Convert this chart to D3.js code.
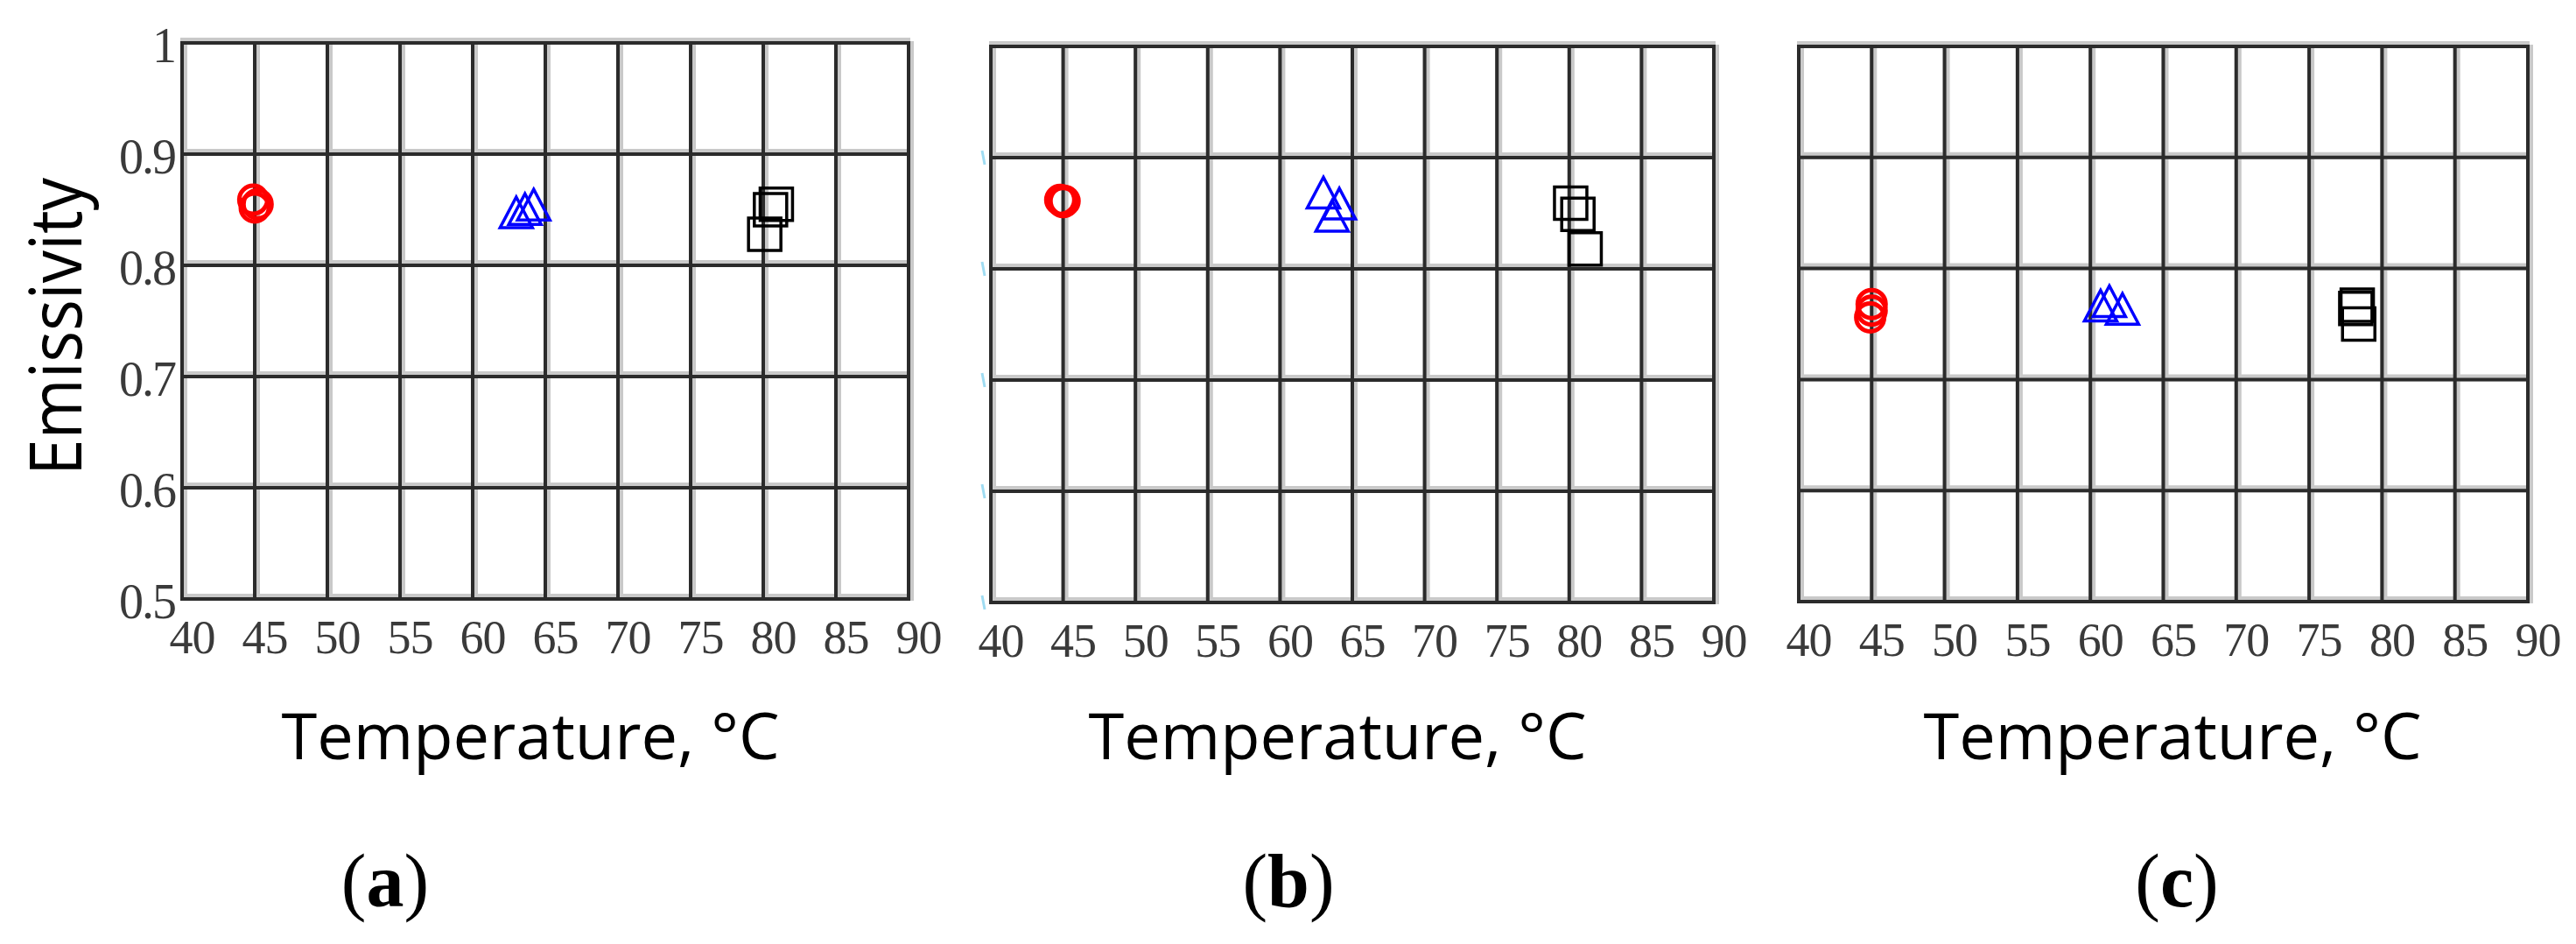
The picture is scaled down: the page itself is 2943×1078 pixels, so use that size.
<!DOCTYPE html>
<html>
<head>
<meta charset="utf-8">
<script src="https://cdn.jsdelivr.net/npm/d3@7"></script>
<style>
html, body { margin: 0; padding: 0; background: #fff; }
svg { display: block; }
</style>
</head>
<body>
<svg id="chart" width="2943" height="1078"></svg>
<script>
// axis ticks
var tempTicks = [40, 45, 50, 55, 60, 65, 70, 75, 80, 85, 90];
var emisTicks = [0.5, 0.6, 0.7, 0.8, 0.9, 1];
var emisLabels = ['0.5', '0.6', '0.7', '0.8', '0.9', '1'];

// (a) [temperature, emissivity]
var circlesA = [[44.9, 0.859], [45.0, 0.852], [45.2, 0.855]];
var trianglesA = [[63.0, 0.843], [63.6, 0.846], [64.2, 0.850]];
var squaresA = [[80.9, 0.855], [80.5, 0.850], [80.1, 0.828]];

// (b)
var circlesB = [[44.8, 0.862], [45.0, 0.860], [45.1, 0.861]];
var trianglesB = [[63.0, 0.864], [64.1, 0.854], [63.6, 0.843]];
var squaresB = [[80.1, 0.859], [80.6, 0.849], [81.1, 0.818]];

// (c)
var circlesC = [[45.0, 0.768], [45.0, 0.762], [44.9, 0.756]];
var trianglesC = [[61.3, 0.766], [62.2, 0.759], [60.7, 0.762]];
var squaresC = [[78.3, 0.767], [78.2, 0.764], [78.4, 0.750]];

var panels = [
    { tag: 'a', left: 208, right: 1038, top: 49, bottom: 684, yLabels: true, titleX: 606, tagX: 440,
      circles: circlesA, triangles: trianglesA, squares: squaresA },
    { tag: 'b', left: 1132, right: 1958, top: 53, bottom: 688, stubs: true, titleX: 1528, tagX: 1472,
      circles: circlesB, triangles: trianglesB, squares: squaresB },
    { tag: 'c', left: 2055, right: 2888, top: 53, bottom: 687, titleX: 2482, tagX: 2487,
      circles: circlesC, triangles: trianglesC, squares: squaresC }
];

var svg = d3.select('#chart');

// slightly tall triangle, centred on its centroid
var triangleType = {
    draw: function(ctx, size)
    {
        var w = 37, h = 35;
        ctx.moveTo(0, -h * 2 / 3);
        ctx.lineTo(w / 2, h / 3);
        ctx.lineTo(-w / 2, h / 3);
        ctx.closePath();
    }
};

panels.forEach(function(p)
{
    var x = d3.scaleLinear().domain([40, 90]).range([p.left, p.right]),
        y = d3.scaleLinear().domain([0.5, 1]).range([p.bottom, p.top]),
        g = svg.append('g');

    // grid: soft halo first, then the dark core
    [['#c9c9c9', 8], ['#2b2b2b', 4]].forEach(function(st)
    {
        g.append('g').selectAll('line.v')
            .data(tempTicks)
            .enter().append('line')
            .attr('x1', function(d) { return x(d) + (st[1] > 4 ? 2 : 0); })
            .attr('x2', function(d) { return x(d) + (st[1] > 4 ? 2 : 0); })
            .attr('y1', p.top - 2)
            .attr('y2', p.bottom + 2)
            .attr('stroke', st[0])
            .attr('stroke-width', st[1]);
        g.append('g').selectAll('line.h')
            .data(emisTicks)
            .enter().append('line')
            .attr('x1', p.left - 2)
            .attr('x2', p.right + 2)
            .attr('y1', function(d) { return y(d) - (st[1] > 4 ? 2 : 0); })
            .attr('y2', function(d) { return y(d) - (st[1] > 4 ? 2 : 0); })
            .attr('stroke', st[0])
            .attr('stroke-width', st[1]);
    });

    // x tick labels
    var xAxis = g.append('g')
        .attr('transform', 'translate(11,' + p.bottom + ')')
        .call(d3.axisBottom(x).tickValues(tempTicks).tickSize(0).tickPadding(24).tickFormat(d3.format('d')));
    xAxis.select('.domain').remove();
    xAxis.selectAll('text')
        .attr('font-family', '"Liberation Serif", "Times New Roman", serif')
        .attr('font-size', 54)
        .attr('letter-spacing', -1)
        .attr('fill', '#3a3a3a');

    // y tick labels only on (a)
    if (p.yLabels)
    {
        var yAxis = g.append('g')
            .attr('transform', 'translate(' + p.left + ',4)')
            .call(d3.axisLeft(y).tickValues(emisTicks).tickSize(0).tickPadding(8)
                .tickFormat(function(d, i) { return emisLabels[i]; }));
        yAxis.select('.domain').remove();
        yAxis.selectAll('text')
            .attr('font-family', '"Liberation Serif", "Times New Roman", serif')
            .attr('font-size', 56)
            .attr('letter-spacing', -2)
            .attr('fill', '#3a3a3a');
    }

    // faint leftover tick stubs on (b)
    if (p.stubs)
    {
        g.append('g').selectAll('line')
            .data(emisTicks.slice(0, 5))
            .enter().append('line')
            .attr('x1', p.left - 10)
            .attr('x2', p.left - 7)
            .attr('y1', function(d) { return y(d) - 8; })
            .attr('y2', function(d) { return y(d) + 8; })
            .attr('stroke', '#9fdcf2')
            .attr('stroke-width', 3);
    }

    // markers
    g.append('g').selectAll('circle')
        .data(p.circles)
        .enter().append('circle')
        .attr('cx', function(d) { return x(d[0]); })
        .attr('cy', function(d) { return y(d[1]); })
        .attr('r', 16)
        .attr('fill', 'none')
        .attr('stroke', '#ff0000')
        .attr('stroke-width', 5);

    g.append('g').selectAll('path')
        .data(p.triangles)
        .enter().append('path')
        .attr('transform', function(d) { return 'translate(' + x(d[0]) + ',' + y(d[1]) + ')'; })
        .attr('d', d3.symbol().type(triangleType))
        .attr('fill', 'none')
        .attr('stroke', '#0000ff')
        .attr('stroke-width', 3.5);

    g.append('g').selectAll('path')
        .data(p.squares)
        .enter().append('path')
        .attr('transform', function(d) { return 'translate(' + x(d[0]) + ',' + y(d[1]) + ')'; })
        .attr('d', d3.symbol().type(d3.symbolSquare).size(37 * 37))
        .attr('fill', 'none')
        .attr('stroke', '#000')
        .attr('stroke-width', 3.5);

    // axis title
    svg.append('text')
        .attr('x', p.titleX)
        .attr('y', 867)
        .attr('text-anchor', 'middle')
        .attr('font-family', '"Open Sans", sans-serif')
        .attr('font-size', 74)
        .attr('fill', '#000')
        .text('Temperature, °C');

    // panel tag: (a) with bold letter
    var tag = svg.append('text')
        .attr('x', p.tagX)
        .attr('y', 1035)
        .attr('text-anchor', 'middle')
        .attr('font-family', '"Liberation Serif", "Times New Roman", serif')
        .attr('font-size', 86)
        .attr('fill', '#000');
    tag.append('tspan').text('(');
    tag.append('tspan').attr('font-weight', 'bold').text(p.tag);
    tag.append('tspan').text(')');
});

// y axis title
svg.append('text')
    .attr('transform', 'translate(93,373) rotate(-90)')
    .attr('text-anchor', 'middle')
    .attr('font-family', '"Open Sans", sans-serif')
    .attr('font-size', 82)
    .attr('textLength', 340)
    .attr('lengthAdjust', 'spacingAndGlyphs')
    .attr('fill', '#000')
    .text('Emissivity');
</script>
</body>
</html>
